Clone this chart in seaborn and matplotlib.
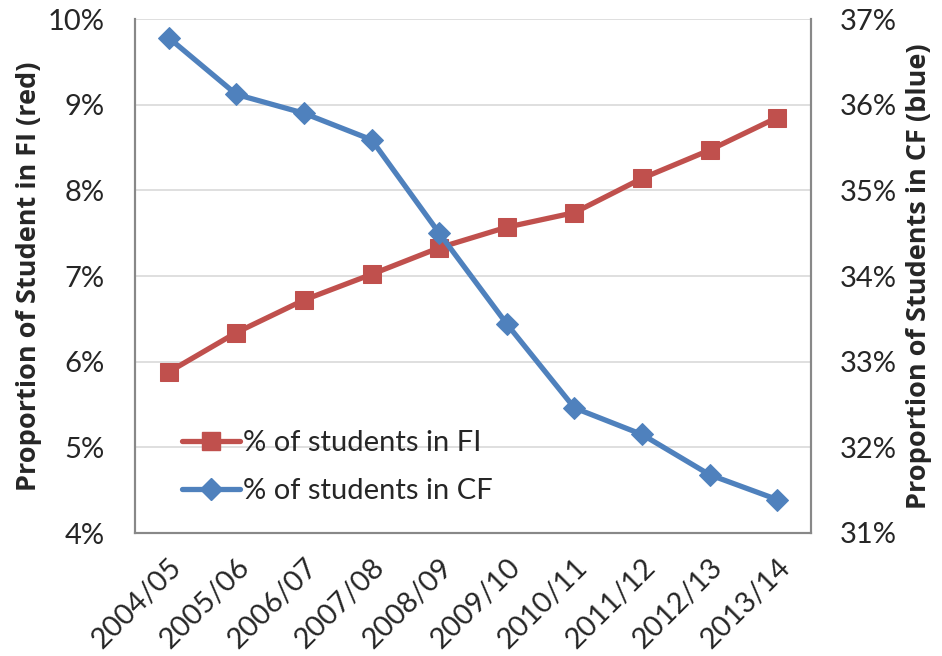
import pandas as pd
import matplotlib.pyplot as plt
import seaborn as sns
from matplotlib.ticker import FuncFormatter
from matplotlib.lines import Line2D

# données
years = ['2004/05', '2005/06', '2006/07', '2007/08', '2008/09',
         '2009/10', '2010/11', '2011/12', '2012/13', '2013/14']
fi_pct = [5.88, 6.34, 6.72, 7.02, 7.33, 7.57, 7.74, 8.14, 8.47, 8.85]
cf_pct = [36.78, 36.12, 35.90, 35.59, 34.50, 33.44, 32.46, 32.15, 31.68, 31.39]

red = '#C0504D'
blue = '#4F81BD'

sns.set_theme(style='white')
plt.rcParams['font.family'] = ['Lato', 'DejaVu Sans']

df = pd.DataFrame({'year': years, 'x': range(len(years)), 'fi': fi_pct, 'cf': cf_pct})

fig = plt.figure(figsize=(9.42, 6.56), dpi=100)
ax = fig.add_axes([0.1433, 0.1875, 0.7177, 0.7835])
ax2 = ax.twinx()

sns.lineplot(data=df, x='x', y='fi', ax=ax, color=red, linewidth=3.8,
             marker='s', markersize=13, markeredgecolor=red)
sns.lineplot(data=df, x='x', y='cf', ax=ax2, color=blue, linewidth=3.8,
             marker='D', markersize=11, markeredgecolor=blue)

ax.set_ylim(4, 10)
ax2.set_ylim(31, 37)
ax.set_xlim(-0.5, len(years) - 0.5)
ax.set_yticks(range(4, 11))
ax2.set_yticks(range(31, 38))
ax.yaxis.set_major_formatter(FuncFormatter(lambda v, p: f'{v:.0f}%'))
ax2.yaxis.set_major_formatter(FuncFormatter(lambda v, p: f'{v:.0f}%'))
ax.grid(axis='y', color='#D9D9D9', linewidth=1.2)
ax.set_axisbelow(True)

ax.set_xticks(df['x'])
ax.set_xticklabels(years, rotation=45, ha='right', rotation_mode='anchor')
ax.tick_params(axis='x', direction='in', length=7, width=1.2, color='#888888',
               labelsize=21, pad=15)
ax.tick_params(axis='y', length=0, labelsize=21, pad=22)
ax2.tick_params(axis='y', length=0, labelsize=21, pad=21)

for a in (ax, ax2):
    a.spines['top'].set_visible(False)
    for s in ('left', 'right', 'bottom'):
        a.spines[s].set_color('#888888')
        a.spines[s].set_linewidth(1.5)

# titres des axes en gras
ax.set_xlabel('')
ax.set_ylabel('Proportion of Student in FI (red)', fontsize=19.5, fontweight='bold',
              family=['Open Sans', 'DejaVu Sans'], labelpad=4)
ax2.set_ylabel('Proportion of Students in CF (blue)', fontsize=19.5, fontweight='bold',
               family=['Open Sans', 'DejaVu Sans'], labelpad=6)

handles = [
    Line2D([], [], color=red, linewidth=3.8, marker='s', markersize=13),
    Line2D([], [], color=blue, linewidth=3.8, marker='D', markersize=11),
]
ax.legend(handles, ['% of students in FI', '% of students in CF'],
          loc='lower left', bbox_to_anchor=(0.03, 0.005), frameon=False,
          fontsize=21, handlelength=2.0, handletextpad=0.1, labelspacing=0.75)

fig.savefig('out.png', dpi=100)
